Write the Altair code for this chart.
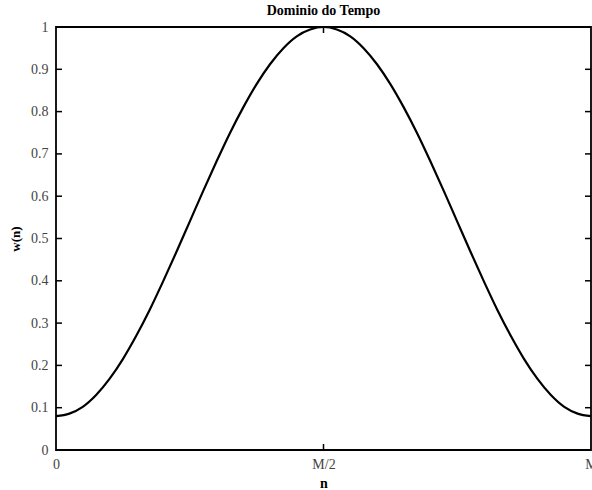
import altair as alt
import pandas as pd

# (n as a fraction of M)
n_frac = [0.0, 0.025, 0.05, 0.075, 0.1, 0.125, 0.15, 0.175, 0.2, 0.225, 0.25,
          0.275, 0.3, 0.325, 0.35, 0.375, 0.4, 0.425, 0.45, 0.475, 0.5,
          0.525, 0.55, 0.575, 0.6, 0.625, 0.65, 0.675, 0.7, 0.725, 0.75,
          0.775, 0.8, 0.825, 0.85, 0.875, 0.9, 0.925, 0.95, 0.975, 1.0]
w_vals = [0.080, 0.086, 0.102, 0.130, 0.168, 0.215, 0.270, 0.331, 0.398, 0.468, 0.540,
          0.612, 0.682, 0.749, 0.810, 0.865, 0.912, 0.950, 0.978, 0.994, 1.000,
          0.994, 0.978, 0.950, 0.912, 0.865, 0.810, 0.749, 0.682, 0.612, 0.540,
          0.468, 0.398, 0.331, 0.270, 0.215, 0.168, 0.130, 0.102, 0.086, 0.080]
y_ticks = [0, 0.1, 0.2, 0.3, 0.4, 0.5, 0.6, 0.7, 0.8, 0.9, 1.0]
x_ticks = [0, 0.5, 1.0]
x_labels = ["0", "M/2", "M"]

W, H = 535, 423
FONT = "Liberation Serif"

df = pd.DataFrame({"n": n_frac, "w": w_vals})
yt = pd.DataFrame({"y": y_ticks})
xt = pd.DataFrame({"x": [0.5]})

label_expr = ("datum.value == 0 ? '" + x_labels[0] + "' : datum.value == 0.5 ? '"
              + x_labels[1] + "' : '" + x_labels[2] + "'")

xscale = alt.Scale(domain=[0, 1], nice=False, zero=False)
yscale = alt.Scale(domain=[0, 1], nice=False)

line = alt.Chart(df).mark_line(color="black", strokeWidth=2.2, interpolate="monotone").encode(
    x=alt.X("n:Q", scale=xscale,
            axis=alt.Axis(title="n", values=x_ticks, labelExpr=label_expr, grid=False,
                          domain=False, ticks=False, labelPadding=7, titlePadding=5,
                          labelFont=FONT, labelFontSize=14, labelColor="#444",
                          titleFont=FONT, titleFontSize=14, titleFontWeight="bold",
                          labelFlush=False)),
    y=alt.Y("w:Q", scale=yscale,
            axis=alt.Axis(title="w(n)", values=y_ticks, format="~g", grid=False,
                          domain=False, ticks=False, labelPadding=8, titlePadding=8,
                          labelFont=FONT, labelFontSize=14, labelColor="#444",
                          titleFont=FONT, titleFontSize=13, titleFontWeight="bold")),
)

left_ticks = alt.Chart(yt).mark_rule(color="black", strokeWidth=1.5).encode(
    y=alt.Y("y:Q", scale=yscale), x=alt.value(0), x2=alt.value(6))
right_ticks = alt.Chart(yt).mark_rule(color="black", strokeWidth=1.5).encode(
    y=alt.Y("y:Q", scale=yscale), x=alt.value(W - 6), x2=alt.value(W))
bottom_ticks = alt.Chart(xt).mark_rule(color="black", strokeWidth=1.5).encode(
    x=alt.X("x:Q", scale=xscale), y=alt.value(H - 6), y2=alt.value(H))
top_ticks = alt.Chart(xt).mark_rule(color="black", strokeWidth=1.5).encode(
    x=alt.X("x:Q", scale=xscale), y=alt.value(0), y2=alt.value(6))

chart = alt.layer(line, left_ticks, right_ticks, bottom_ticks, top_ticks).properties(
    width=W, height=H,
    title=alt.TitleParams("Dominio do Tempo", font=FONT, fontSize=14, fontWeight="bold",
                          color="black", offset=2),
    autosize=alt.AutoSizeParams(type="none"),
    padding={"left": 56, "top": 27, "right": 1, "bottom": 40},
).configure(background="white").configure_view(stroke="black", strokeWidth=1.8)

chart.save("out.html", embed_options={"renderer": "svg", "actions": False})
